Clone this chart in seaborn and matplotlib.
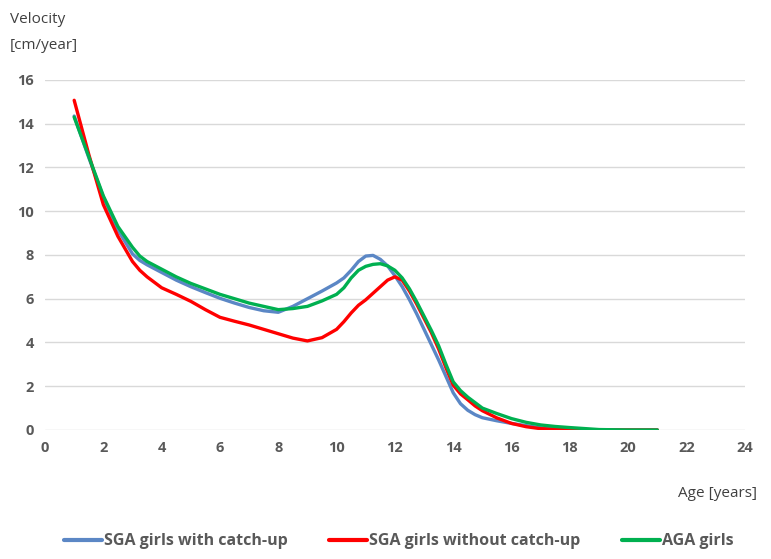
import numpy as np
import pandas as pd
import matplotlib
matplotlib.use("Agg")
import matplotlib.pyplot as plt
import seaborn as sns

# ages in years
age = [1, 1.5, 2, 2.5, 3, 3.25, 3.5, 4, 4.5, 5, 5.5, 6, 6.5, 7, 7.5, 8, 8.5,
       9, 9.5, 10, 10.25, 10.5, 10.75, 11, 11.25, 11.5, 11.75, 12, 12.25,
       12.5, 12.75, 13, 13.25, 13.5, 13.75, 14, 14.25, 14.5, 14.75, 15, 15.5,
       16, 16.5, 17, 17.5, 18, 19, 20, 21]

sga_catchup = [14.35, 12.45, 10.65, 9.15, 8.05, 7.75, 7.55, 7.2, 6.85, 6.55,
               6.28, 6.02, 5.8, 5.6, 5.45, 5.38, 5.65, 6.0, 6.35, 6.72, 6.95,
               7.3, 7.7, 7.95, 7.98, 7.8, 7.5, 7.05, 6.55, 5.95, 5.3, 4.6, 3.9,
               3.2, 2.45, 1.7, 1.2, 0.9, 0.7, 0.56, 0.42, 0.3, 0.2, 0.1, 0.05,
               0.02, 0.0, 0.0, 0.0]

sga_no_catchup = [15.07, 12.6, 10.3, 8.85, 7.7, 7.3, 7.0, 6.5, 6.2, 5.88, 5.5,
                  5.15, 4.97, 4.8, 4.6, 4.4, 4.2, 4.07, 4.22, 4.6, 4.95, 5.35,
                  5.7, 5.95, 6.25, 6.55, 6.85, 7.0, 6.85, 6.35, 5.75, 5.1,
                  4.45, 3.7, 2.85, 2.05, 1.65, 1.38, 1.1, 0.88, 0.55, 0.3,
                  0.15, 0.06, 0.03, 0.01, 0.0, 0.0, 0.0]

aga = [14.3, 12.5, 10.7, 9.3, 8.35, 7.95, 7.7, 7.35, 7.0, 6.7, 6.45, 6.2, 6.0,
       5.8, 5.65, 5.5, 5.55, 5.65, 5.9, 6.2, 6.5, 6.95, 7.3, 7.48, 7.57, 7.6,
       7.5, 7.3, 6.95, 6.45, 5.85, 5.2, 4.55, 3.85, 3.0, 2.2, 1.8, 1.5, 1.25,
       1.0, 0.75, 0.52, 0.35, 0.23, 0.16, 0.11, 0.02, 0.0, 0.0]

series = ["SGA girls with catch-up", "SGA girls without catch-up", "AGA girls"]
colors = ["#5B87C5", "#FF0000", "#00B050"]

df = pd.DataFrame({"age": age, series[0]: sga_catchup,
                   series[1]: sga_no_catchup, series[2]: aga})
long = df.melt(id_vars="age", var_name="group", value_name="velocity")

sns.set_style("white")
plt.rcParams["font.family"] = ["Open Sans", "DejaVu Sans"]

fig = plt.figure(figsize=(7.71, 5.59), dpi=100)
ax = fig.add_axes([0.0584, 0.2308, 0.9076, 0.6262])

sns.lineplot(data=long, x="age", y="velocity", hue="group", hue_order=series,
             palette=colors, linewidth=2.4, ax=ax, legend=False)
for ln in ax.get_lines():
    ln.set_solid_joinstyle("round")

ax.set_xlim(0, 24)
ax.set_ylim(0, 16)
ax.set_xticks(range(0, 25, 2))
ax.set_yticks(range(0, 17, 2))
ax.grid(axis="y", color="#D9D9D9", linewidth=1)
ax.grid(axis="x", visible=False)
ax.set_axisbelow(True)
for s in ax.spines.values():
    s.set_visible(False)
ax.tick_params(length=0, labelsize=10.5, labelcolor="#595959", pad=8)
for lbl in ax.get_xticklabels() + ax.get_yticklabels():
    lbl.set_fontweight("bold")
ax.set_xlabel("")
ax.set_ylabel("")

fig.text(0.013, 0.965, "Velocity", fontsize=11, color="#404040", va="center")
fig.text(0.013, 0.918, "[cm/year]", fontsize=11, color="#404040", va="center")
fig.text(0.982, 0.118, "Age [years]", fontsize=11, color="#404040",
         va="center", ha="right")

handles = [plt.Line2D([], [], color=c, linewidth=3) for c in colors]
leg = fig.legend(handles, series, loc="center", bbox_to_anchor=(0.517, 0.032),
                 ncol=3, frameon=False, handlelength=2.4, handletextpad=0.1,
                 columnspacing=2.6, prop={"size": 11.5, "weight": "bold"})
for t in leg.get_texts():
    t.set_color("#595959")

fig.savefig("out.png", dpi=100)
